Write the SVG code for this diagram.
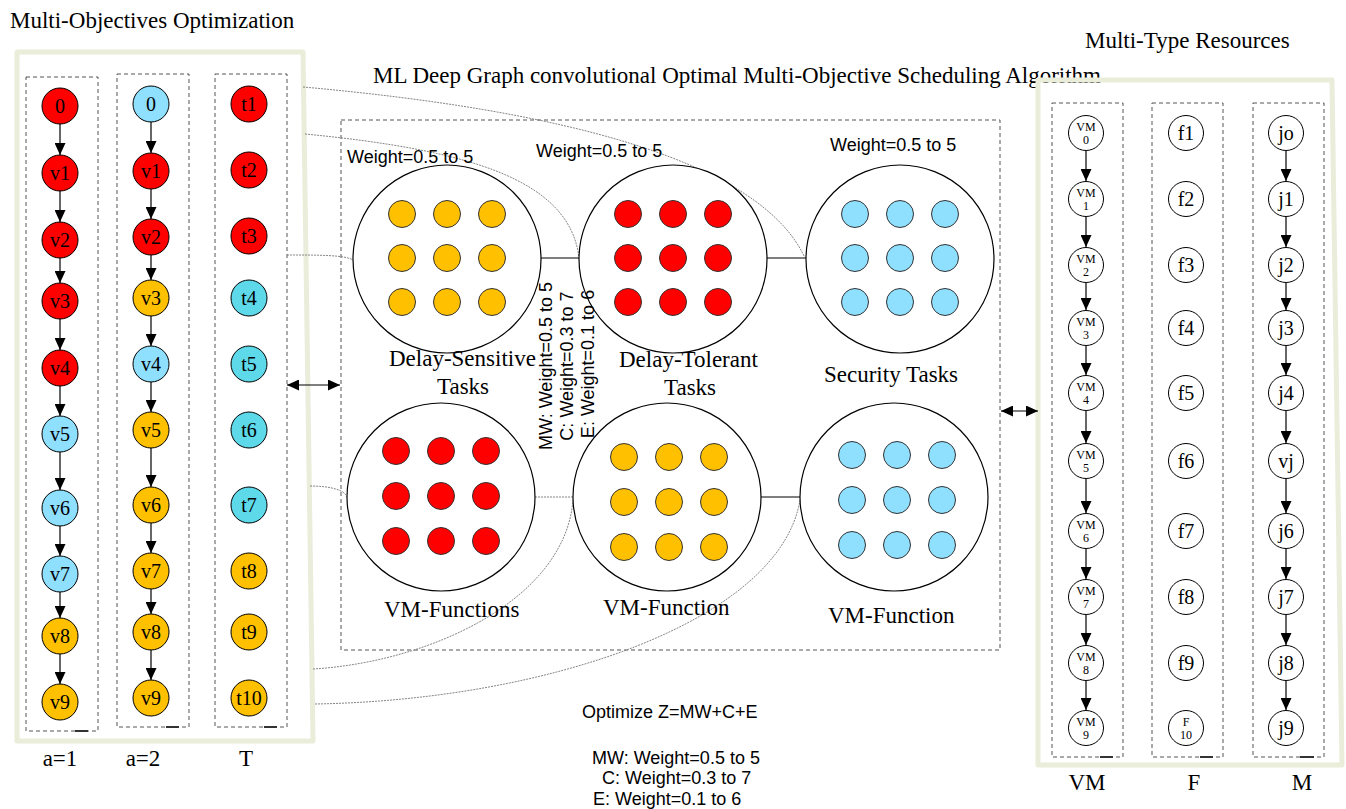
<svg xmlns="http://www.w3.org/2000/svg" width="1346" height="809" viewBox="0 0 1346 809">
<defs>
<marker id="ah" markerUnits="userSpaceOnUse" viewBox="0 0 12 11" markerWidth="12" markerHeight="11" refX="12" refY="5.5" orient="auto-start-reverse"><path d="M0,0 L12,5.5 L0,11 z" fill="#000"/></marker>
<style>
.frame{fill:none;stroke:#E9EDDA;stroke-width:5;stroke-linejoin:round}
.dbox{fill:none;stroke:#555;stroke-width:1;stroke-dasharray:4 3}
.bar{stroke:#333;stroke-width:2}
.n{stroke:#000;stroke-width:1}
.d{stroke:#333;stroke-width:1}
.red{fill:#FF0000}.blue{fill:#8FDFFF}.cyan{fill:#5DD9E9}.orange{fill:#FFC000}.white{fill:#fff}
.big{fill:#fff;stroke:#000;stroke-width:1.2}
.t{font-family:"Liberation Serif","Times New Roman",serif;font-size:20px;text-anchor:middle;fill:#000}
.ts{font-family:"Liberation Serif","Times New Roman",serif;font-size:12px;text-anchor:middle;fill:#000}
.lab{font-family:"Liberation Serif","Times New Roman",serif;font-size:23px;fill:#000}
.c{text-anchor:middle}
.s{font-family:"Liberation Sans",Arial,sans-serif;font-size:18px;fill:#000}
.e{stroke:#000;stroke-width:1.2;marker-end:url(#ah)}
.da{stroke:#000;stroke-width:1.2;marker-end:url(#ah);marker-start:url(#ah)}
.cv{fill:none;stroke:#777;stroke-width:0.9;stroke-dasharray:2 1}
.ln{stroke:#000;stroke-width:1.2}
</style>
</defs>

<rect width="1346" height="809" fill="#fff"/>

<!-- titles -->
<text class="lab" x="10" y="28">Multi-Objectives Optimization</text>
<text class="lab" x="373" y="83">ML Deep Graph convolutional Optimal Multi-Objective Scheduling Algorithm</text>
<text class="lab" x="1085" y="48">Multi-Type Resources</text>

<!-- frames -->
<g id="left-panel">
<polygon class="frame" points="17,52 303,52 313,741 17,741"/>
<rect class="dbox" x="26" y="77" width="72" height="654"/>
<rect class="dbox" x="117" y="74" width="72" height="653"/>
<rect class="dbox" x="215" y="74" width="72" height="653"/>
<line class="bar" x1="75" y1="731" x2="88" y2="731"/>
<line class="bar" x1="166" y1="727" x2="179" y2="727"/>
<line class="bar" x1="264" y1="727" x2="277" y2="727"/>
<text class="lab c" x="60" y="766">a=1</text>
<text class="lab c" x="143" y="766">a=2</text>
<text class="lab c" x="246" y="766">T</text>
</g>

<g id="right-panel">
<polygon class="frame" points="1038,80 1332,80 1342,765 1038,765"/>
<rect class="dbox" x="1052" y="103" width="71" height="654"/>
<rect class="dbox" x="1152" y="103" width="71" height="654"/>
<rect class="dbox" x="1253" y="103" width="71" height="654"/>
<line class="bar" x1="1100" y1="757" x2="1113" y2="757"/>
<line class="bar" x1="1200" y1="757" x2="1213" y2="757"/>
<line class="bar" x1="1300" y1="757" x2="1314" y2="757"/>
<text class="lab c" x="1087" y="790">VM</text>
<text class="lab c" x="1194" y="790">F</text>
<text class="lab c" x="1302" y="790">M</text>
</g>

<g id="middle-box">
<rect class="dbox" x="341" y="120" width="659" height="530"/>
</g>

<!-- connectors -->
<g id="connectors">
<!-- column 1 -->
<line class="e" x1="60" y1="124" x2="60" y2="155"/>
<line class="e" x1="60" y1="191" x2="60" y2="222"/>
<line class="e" x1="60" y1="258" x2="60" y2="283"/>
<line class="e" x1="60" y1="319" x2="60" y2="350"/>
<line class="e" x1="60" y1="386" x2="60" y2="416"/>
<line class="e" x1="60" y1="452" x2="60" y2="490"/>
<line class="e" x1="60" y1="526" x2="60" y2="556"/>
<line class="e" x1="60" y1="592" x2="60" y2="618"/>
<line class="e" x1="60" y1="654" x2="60" y2="684"/>
<!-- column 2 -->
<line class="e" x1="151" y1="122" x2="151" y2="153"/>
<line class="e" x1="151" y1="189" x2="151" y2="219"/>
<line class="e" x1="151" y1="255" x2="151" y2="280"/>
<line class="e" x1="151" y1="316" x2="151" y2="346"/>
<line class="e" x1="151" y1="382" x2="151" y2="412"/>
<line class="e" x1="151" y1="448" x2="151" y2="487"/>
<line class="e" x1="151" y1="523" x2="151" y2="553"/>
<line class="e" x1="151" y1="589" x2="151" y2="614"/>
<line class="e" x1="151" y1="650" x2="151" y2="680"/>
<!-- VM column -->
<line class="e" x1="1086" y1="151" x2="1086" y2="181"/>
<line class="e" x1="1086" y1="217" x2="1086" y2="247"/>
<line class="e" x1="1086" y1="283" x2="1086" y2="310"/>
<line class="e" x1="1086" y1="346" x2="1086" y2="375"/>
<line class="e" x1="1086" y1="411" x2="1086" y2="443"/>
<line class="e" x1="1086" y1="479" x2="1086" y2="513"/>
<line class="e" x1="1086" y1="549" x2="1086" y2="579"/>
<line class="e" x1="1086" y1="615" x2="1086" y2="645"/>
<line class="e" x1="1086" y1="681" x2="1086" y2="710"/>
<!-- M column -->
<line class="e" x1="1286" y1="151" x2="1286" y2="181"/>
<line class="e" x1="1286" y1="217" x2="1286" y2="247"/>
<line class="e" x1="1286" y1="283" x2="1286" y2="310"/>
<line class="e" x1="1286" y1="346" x2="1286" y2="375"/>
<line class="e" x1="1286" y1="411" x2="1286" y2="443"/>
<line class="e" x1="1286" y1="479" x2="1286" y2="513"/>
<line class="e" x1="1286" y1="549" x2="1286" y2="579"/>
<line class="e" x1="1286" y1="615" x2="1286" y2="645"/>
<line class="e" x1="1286" y1="681" x2="1286" y2="710"/>
<!-- double arrows -->
<line class="da" x1="287" y1="385" x2="340" y2="385"/>
<line class="da" x1="1001" y1="411" x2="1038" y2="411"/>
<!-- links between groups -->
<line class="ln" x1="541" y1="258" x2="579" y2="258"/>
<line class="ln" x1="767" y1="258" x2="806" y2="258"/>
<line class="ln" x1="761" y1="497" x2="800" y2="497"/>
<line class="cv" x1="535" y1="497" x2="573" y2="497"/>
<!-- curves -->
<path class="cv" d="M303,87 C560,110 760,160 805,258"/>
<path class="cv" d="M305,134 C470,150 570,180 579,258"/>
<path class="cv" d="M287,255 C320,255 345,255 353,260"/>
<path class="cv" d="M310,486 C330,486 345,490 347,497"/>
<path class="cv" d="M313,669 C430,662 565,600 573,500"/>
<path class="cv" d="M315,704 C550,700 780,620 800,500"/>
</g>

<!-- left column 1 nodes -->
<g id="a1-0"><circle class="n red" cx="60" cy="106" r="18"/><text class="t" x="60" y="113">0</text></g>
<g id="a1-v1"><circle class="n red" cx="60" cy="173" r="18"/><text class="t" x="60" y="180">v1</text></g>
<g id="a1-v2"><circle class="n red" cx="60" cy="240" r="18"/><text class="t" x="60" y="247">v2</text></g>
<g id="a1-v3"><circle class="n red" cx="60" cy="301" r="18"/><text class="t" x="60" y="308">v3</text></g>
<g id="a1-v4"><circle class="n red" cx="60" cy="368" r="18"/><text class="t" x="60" y="375">v4</text></g>
<g id="a1-v5"><circle class="n blue" cx="60" cy="434" r="18"/><text class="t" x="60" y="441">v5</text></g>
<g id="a1-v6"><circle class="n blue" cx="60" cy="508" r="18"/><text class="t" x="60" y="515">v6</text></g>
<g id="a1-v7"><circle class="n blue" cx="60" cy="574" r="18"/><text class="t" x="60" y="581">v7</text></g>
<g id="a1-v8"><circle class="n orange" cx="60" cy="636" r="18"/><text class="t" x="60" y="643">v8</text></g>
<g id="a1-v9"><circle class="n orange" cx="60" cy="702" r="18"/><text class="t" x="60" y="709">v9</text></g>

<!-- left column 2 nodes -->
<g id="a2-0"><circle class="n blue" cx="151" cy="104" r="18"/><text class="t" x="151" y="111">0</text></g>
<g id="a2-v1"><circle class="n red" cx="151" cy="171" r="18"/><text class="t" x="151" y="178">v1</text></g>
<g id="a2-v2"><circle class="n red" cx="151" cy="237" r="18"/><text class="t" x="151" y="244">v2</text></g>
<g id="a2-v3"><circle class="n orange" cx="151" cy="298" r="18"/><text class="t" x="151" y="305">v3</text></g>
<g id="a2-v4"><circle class="n blue" cx="151" cy="364" r="18"/><text class="t" x="151" y="371">v4</text></g>
<g id="a2-v5"><circle class="n orange" cx="151" cy="430" r="18"/><text class="t" x="151" y="437">v5</text></g>
<g id="a2-v6"><circle class="n orange" cx="151" cy="505" r="18"/><text class="t" x="151" y="512">v6</text></g>
<g id="a2-v7"><circle class="n orange" cx="151" cy="571" r="18"/><text class="t" x="151" y="578">v7</text></g>
<g id="a2-v8"><circle class="n orange" cx="151" cy="632" r="18"/><text class="t" x="151" y="639">v8</text></g>
<g id="a2-v9"><circle class="n orange" cx="151" cy="698" r="18"/><text class="t" x="151" y="705">v9</text></g>

<!-- T column nodes -->
<g id="t1"><circle class="n red" cx="249" cy="104" r="18"/><text class="t" x="249" y="111">t1</text></g>
<g id="t2"><circle class="n red" cx="249" cy="170" r="18"/><text class="t" x="249" y="177">t2</text></g>
<g id="t3"><circle class="n red" cx="249" cy="236" r="18"/><text class="t" x="249" y="243">t3</text></g>
<g id="t4"><circle class="n cyan" cx="249" cy="298" r="18"/><text class="t" x="249" y="305">t4</text></g>
<g id="t5"><circle class="n cyan" cx="249" cy="364" r="18"/><text class="t" x="249" y="371">t5</text></g>
<g id="t6"><circle class="n cyan" cx="249" cy="430" r="18"/><text class="t" x="249" y="437">t6</text></g>
<g id="t7"><circle class="n cyan" cx="249" cy="505" r="18"/><text class="t" x="249" y="512">t7</text></g>
<g id="t8"><circle class="n orange" cx="249" cy="571" r="18"/><text class="t" x="249" y="578">t8</text></g>
<g id="t9"><circle class="n orange" cx="249" cy="632" r="18"/><text class="t" x="249" y="639">t9</text></g>
<g id="t10"><circle class="n orange" cx="249" cy="698" r="18"/><text class="t" x="249" y="705">t10</text></g>

<!-- middle groups -->
<g id="delay-sensitive">
<text class="s" x="347" y="163">Weight=0.5 to 5</text>
<circle class="big" cx="447" cy="259" r="94"/>
<g class="d orange">
<circle cx="402" cy="214" r="13.5"/><circle cx="447" cy="214" r="13.5"/><circle cx="492" cy="214" r="13.5"/>
<circle cx="402" cy="258" r="13.5"/><circle cx="447" cy="258" r="13.5"/><circle cx="492" cy="258" r="13.5"/>
<circle cx="402" cy="302" r="13.5"/><circle cx="447" cy="302" r="13.5"/><circle cx="492" cy="302" r="13.5"/>
</g>
<text class="lab" x="389" y="366">Delay-Sensitive</text>
<text class="lab" x="437" y="394">Tasks</text>
</g>

<g id="delay-tolerant">
<text class="s" x="536" y="157">Weight=0.5 to 5</text>
<circle class="big" cx="673" cy="259" r="94"/>
<g class="d red">
<circle cx="628" cy="214" r="13.5"/><circle cx="673" cy="214" r="13.5"/><circle cx="718" cy="214" r="13.5"/>
<circle cx="628" cy="258" r="13.5"/><circle cx="673" cy="258" r="13.5"/><circle cx="718" cy="258" r="13.5"/>
<circle cx="628" cy="302" r="13.5"/><circle cx="673" cy="302" r="13.5"/><circle cx="718" cy="302" r="13.5"/>
</g>
<text class="lab" x="619" y="367">Delay-Tolerant</text>
<text class="lab" x="664" y="395">Tasks</text>
</g>

<g id="security">
<text class="s" x="830" y="151">Weight=0.5 to 5</text>
<circle class="big" cx="900" cy="259" r="94"/>
<g class="d blue">
<circle cx="855" cy="214" r="13.5"/><circle cx="900" cy="214" r="13.5"/><circle cx="945" cy="214" r="13.5"/>
<circle cx="855" cy="258" r="13.5"/><circle cx="900" cy="258" r="13.5"/><circle cx="945" cy="258" r="13.5"/>
<circle cx="855" cy="302" r="13.5"/><circle cx="900" cy="302" r="13.5"/><circle cx="945" cy="302" r="13.5"/>
</g>
<text class="lab" x="824" y="382">Security Tasks</text>
</g>

<g id="vm-functions-1">
<circle class="big" cx="441" cy="497" r="94"/>
<g class="d red">
<circle cx="396" cy="451" r="13.5"/><circle cx="441" cy="451" r="13.5"/><circle cx="486" cy="451" r="13.5"/>
<circle cx="396" cy="496" r="13.5"/><circle cx="441" cy="496" r="13.5"/><circle cx="486" cy="496" r="13.5"/>
<circle cx="396" cy="541" r="13.5"/><circle cx="441" cy="541" r="13.5"/><circle cx="486" cy="541" r="13.5"/>
</g>
<text class="lab" x="384" y="617">VM-Functions</text>
</g>

<g id="vm-functions-2">
<circle class="big" cx="667" cy="497" r="94"/>
<g class="d orange">
<circle cx="624" cy="457" r="13.5"/><circle cx="669" cy="457" r="13.5"/><circle cx="714" cy="457" r="13.5"/>
<circle cx="624" cy="502" r="13.5"/><circle cx="669" cy="502" r="13.5"/><circle cx="714" cy="502" r="13.5"/>
<circle cx="624" cy="547" r="13.5"/><circle cx="669" cy="547" r="13.5"/><circle cx="714" cy="547" r="13.5"/>
</g>
<text class="lab" x="603" y="615">VM-Function</text>
</g>

<g id="vm-functions-3">
<circle class="big" cx="894" cy="497" r="94"/>
<g class="d blue">
<circle cx="852" cy="455" r="13.5"/><circle cx="897" cy="455" r="13.5"/><circle cx="942" cy="455" r="13.5"/>
<circle cx="852" cy="500" r="13.5"/><circle cx="897" cy="500" r="13.5"/><circle cx="942" cy="500" r="13.5"/>
<circle cx="852" cy="545" r="13.5"/><circle cx="897" cy="545" r="13.5"/><circle cx="942" cy="545" r="13.5"/>
</g>
<text class="lab" x="828" y="623">VM-Function</text>
</g>

<g id="weights-rotated" class="s">
<text transform="translate(552,366) rotate(-90)" text-anchor="middle">MW: Weight=0.5 to 5</text>
<text transform="translate(573,366) rotate(-90)" text-anchor="middle">C: Weight=0.3 to 7</text>
<text transform="translate(594,364) rotate(-90)" text-anchor="middle">E: Weight=0.1 to 6</text>
</g>

<g id="objective">
<text class="s" x="582" y="718">Optimize Z=MW+C+E</text>
<text class="s" x="592" y="764">MW: Weight=0.5 to 5</text>
<text class="s" x="602" y="784">C: Weight=0.3 to 7</text>
<text class="s" x="593" y="805">E: Weight=0.1 to 6</text>
</g>

<!-- VM column -->
<g id="vm0"><circle class="n white" cx="1086" cy="133" r="17.5"/><text class="ts" x="1086" y="131">VM</text><text class="ts" x="1086" y="144">0</text></g>
<g id="vm1"><circle class="n white" cx="1086" cy="199" r="17.5"/><text class="ts" x="1086" y="197">VM</text><text class="ts" x="1086" y="210">1</text></g>
<g id="vm2"><circle class="n white" cx="1086" cy="265" r="17.5"/><text class="ts" x="1086" y="263">VM</text><text class="ts" x="1086" y="276">2</text></g>
<g id="vm3"><circle class="n white" cx="1086" cy="328" r="17.5"/><text class="ts" x="1086" y="326">VM</text><text class="ts" x="1086" y="339">3</text></g>
<g id="vm4"><circle class="n white" cx="1086" cy="393" r="17.5"/><text class="ts" x="1086" y="391">VM</text><text class="ts" x="1086" y="404">4</text></g>
<g id="vm5"><circle class="n white" cx="1086" cy="461" r="17.5"/><text class="ts" x="1086" y="459">VM</text><text class="ts" x="1086" y="472">5</text></g>
<g id="vm6"><circle class="n white" cx="1086" cy="531" r="17.5"/><text class="ts" x="1086" y="529">VM</text><text class="ts" x="1086" y="542">6</text></g>
<g id="vm7"><circle class="n white" cx="1086" cy="597" r="17.5"/><text class="ts" x="1086" y="595">VM</text><text class="ts" x="1086" y="608">7</text></g>
<g id="vm8"><circle class="n white" cx="1086" cy="663" r="17.5"/><text class="ts" x="1086" y="661">VM</text><text class="ts" x="1086" y="674">8</text></g>
<g id="vm9"><circle class="n white" cx="1086" cy="728" r="17.5"/><text class="ts" x="1086" y="726">VM</text><text class="ts" x="1086" y="739">9</text></g>

<!-- F column -->
<g id="f1"><circle class="n white" cx="1186" cy="133" r="17.5"/><text class="t" x="1186" y="140">f1</text></g>
<g id="f2"><circle class="n white" cx="1186" cy="199" r="17.5"/><text class="t" x="1186" y="206">f2</text></g>
<g id="f3"><circle class="n white" cx="1186" cy="265" r="17.5"/><text class="t" x="1186" y="272">f3</text></g>
<g id="f4"><circle class="n white" cx="1186" cy="328" r="17.5"/><text class="t" x="1186" y="335">f4</text></g>
<g id="f5"><circle class="n white" cx="1186" cy="393" r="17.5"/><text class="t" x="1186" y="400">f5</text></g>
<g id="f6"><circle class="n white" cx="1186" cy="461" r="17.5"/><text class="t" x="1186" y="468">f6</text></g>
<g id="f7"><circle class="n white" cx="1186" cy="531" r="17.5"/><text class="t" x="1186" y="538">f7</text></g>
<g id="f8"><circle class="n white" cx="1186" cy="597" r="17.5"/><text class="t" x="1186" y="604">f8</text></g>
<g id="f9"><circle class="n white" cx="1186" cy="663" r="17.5"/><text class="t" x="1186" y="670">f9</text></g>
<g id="f10"><circle class="n white" cx="1186" cy="728" r="17.5"/><text class="ts" x="1186" y="726">F</text><text class="ts" x="1186" y="739">10</text></g>

<!-- M column -->
<g id="jo"><circle class="n white" cx="1286" cy="133" r="17.5"/><text class="t" x="1286" y="140">jo</text></g>
<g id="j1"><circle class="n white" cx="1286" cy="199" r="17.5"/><text class="t" x="1286" y="206">j1</text></g>
<g id="j2"><circle class="n white" cx="1286" cy="265" r="17.5"/><text class="t" x="1286" y="272">j2</text></g>
<g id="j3"><circle class="n white" cx="1286" cy="328" r="17.5"/><text class="t" x="1286" y="335">j3</text></g>
<g id="j4"><circle class="n white" cx="1286" cy="393" r="17.5"/><text class="t" x="1286" y="400">j4</text></g>
<g id="vj"><circle class="n white" cx="1286" cy="461" r="17.5"/><text class="t" x="1286" y="468">vj</text></g>
<g id="j6"><circle class="n white" cx="1286" cy="531" r="17.5"/><text class="t" x="1286" y="538">j6</text></g>
<g id="j7"><circle class="n white" cx="1286" cy="597" r="17.5"/><text class="t" x="1286" y="604">j7</text></g>
<g id="j8"><circle class="n white" cx="1286" cy="663" r="17.5"/><text class="t" x="1286" y="670">j8</text></g>
<g id="j9"><circle class="n white" cx="1286" cy="728" r="17.5"/><text class="t" x="1286" y="735">j9</text></g>
</svg>
